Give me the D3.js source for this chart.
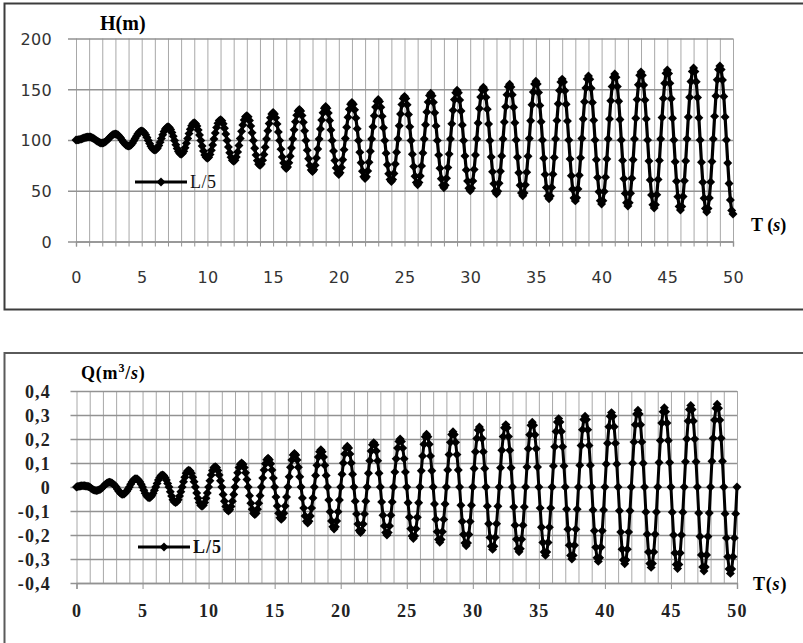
<!DOCTYPE html>
<html>
<head>
<meta charset="utf-8">
<script src="https://cdn.jsdelivr.net/npm/d3@7"></script>
<style>
body { margin: 0; background: #fff; }
</style>
</head>
<body>
<div id="chart"></div>
<script>
// sampling step of both series (s)
var tStep = 0.1;
var xTicks = [0, 5, 10, 15, 20, 25, 30, 35, 40, 45, 50];
var hTicks = [0, 50, 100, 150, 200];
var qTicks = [-0.4, -0.3, -0.2, -0.1, 0, 0.1, 0.2, 0.3, 0.4];
var seriesName = "L/5";

// H(m), one row per second
var headData = [
100, 100.1, 100.3, 100.6, 101.0, 101.5, 102.0, 102.4, 102.7, 102.9,
103, 102.9, 102.4, 101.8, 100.9, 100, 99.1, 98.2, 97.6, 97.1,
97, 97.2, 97.9, 98.9, 100.1, 101.5, 102.9, 104.1, 105.1, 105.8,
106, 105.7, 104.9, 103.5, 101.9, 100, 98.1, 96.5, 95.1, 94.3,
94, 94.4, 95.4, 97.1, 99.2, 101.5, 103.8, 105.9, 107.6, 108.6,
109, 108.5, 107.2, 105.1, 102.4, 99.5, 96.6, 93.9, 91.8, 90.5,
90, 90.6, 92.2, 94.7, 97.9, 101.5, 105.1, 108.3, 110.8, 112.4,
113, 112.3, 110.4, 107.4, 103.7, 99.5, 95.3, 91.6, 88.6, 86.7,
86, 86.8, 89.0, 92.4, 96.7, 101.5, 106.3, 110.6, 114.0, 116.2,
117, 116.1, 113.7, 109.8, 104.9, 99.5, 94.1, 89.2, 85.3, 82.9,
82, 82.9, 85.6, 89.8, 95.1, 101, 106.9, 112.2, 116.4, 119.1,
120, 119.0, 116.1, 111.6, 105.9, 99.5, 93.1, 87.5, 82.9, 80.0,
79, 80.1, 83.3, 88.3, 94.5, 101.5, 108.5, 114.7, 119.7, 122.9,
124, 122.8, 119.3, 113.9, 107.1, 99.5, 91.9, 85.1, 79.7, 76.2,
75, 76.3, 80.0, 85.7, 92.9, 101, 109.1, 116.3, 122.0, 125.7,
127, 125.7, 121.8, 115.7, 108.0, 99.5, 91.0, 83.3, 77.3, 73.4,
72, 73.4, 77.5, 84.0, 92.0, 101, 110.0, 118.1, 124.5, 128.6,
130, 128.5, 124.2, 117.4, 109.0, 99.5, 90.0, 81.6, 74.8, 70.5,
69, 70.6, 75.1, 82.2, 91.1, 101, 110.9, 119.8, 126.9, 131.4,
133, 131.4, 126.6, 119.2, 109.9, 99.5, 89.1, 79.8, 72.4, 67.6,
66, 67.7, 72.8, 80.6, 90.5, 101.5, 112.5, 122.4, 130.2, 135.3,
137, 135.2, 129.8, 121.6, 111.1, 99.5, 87.9, 77.5, 69.2, 63.8,
62, 63.9, 69.4, 78.1, 88.9, 101, 113.1, 123.9, 132.6, 138.1,
140, 138.0, 132.3, 123.3, 112.1, 99.5, 86.9, 75.7, 66.7, 61.0,
59, 61.1, 67.0, 76.3, 88.0, 101, 114.0, 125.7, 135.0, 140.9,
143, 140.9, 134.7, 125.1, 113.0, 99.5, 86.0, 73.9, 64.3, 58.1,
56, 58.2, 64.6, 74.5, 87.1, 101, 115.0, 127.5, 137.4, 143.8,
146, 143.7, 137.1, 126.8, 113.9, 99.5, 85.1, 72.2, 61.9, 55.3,
53, 55.4, 62.2, 72.8, 86.1, 101, 115.9, 129.2, 139.8, 146.6,
149, 146.6, 139.5, 128.6, 114.8, 99.5, 84.2, 70.4, 59.5, 52.4,
50, 52.5, 59.7, 71.0, 85.2, 101, 116.8, 131.0, 142.3, 149.5,
152, 149.4, 142.0, 130.4, 115.8, 99.5, 83.2, 68.6, 57.0, 49.6,
47, 49.6, 57.3, 69.2, 84.3, 101, 117.7, 132.8, 144.7, 152.4,
155, 152.3, 144.5, 132.3, 117.0, 100, 83.0, 67.7, 55.5, 47.7,
45, 47.8, 55.8, 68.3, 84.0, 101.5, 119.0, 134.7, 147.2, 155.2,
158, 155.2, 146.9, 134.1, 118.0, 100, 82.0, 65.9, 53.1, 44.8,
42, 44.9, 53.3, 66.3, 82.7, 101, 119.3, 135.7, 148.7, 157.1,
160, 157.1, 148.5, 135.3, 118.6, 100, 81.4, 64.7, 51.5, 42.9,
40, 43.0, 51.7, 65.3, 82.4, 101.5, 120.6, 137.7, 151.3, 160.0,
163, 159.9, 151.0, 137.0, 119.5, 100, 80.5, 63.0, 49.0, 40.1,
37, 40.1, 49.2, 63.4, 81.2, 101, 120.8, 138.6, 152.8, 161.9,
165, 161.8, 152.6, 138.2, 120.2, 100, 79.9, 61.8, 47.4, 38.2,
35, 38.2, 47.6, 62.2, 80.5, 101, 121.5, 139.8, 154.4, 163.8,
167, 163.7, 154.2, 139.4, 120.8, 100, 79.2, 60.6, 45.8, 36.3,
33, 36.3, 46.0, 61.0, 79.9, 101, 122.1, 141.0, 156.0, 165.7,
169, 165.6, 155.8, 140.6, 121.4, 100, 78.6, 59.4, 44.2, 34.4,
31, 34.4, 44.4, 59.8, 79.3, 101, 122.7, 142.2, 157.6, 167.6,
171, 167.5, 157.4, 141.8, 122.0, 100, 78.0, 58.3, 42.6, 32.5,
29, 32.5, 42.8, 58.7, 78.7, 101, 123.3, 143.3, 159.3, 169.5,
173, 169.4, 159.1, 142.9, 122.6, 100, 77.4, 57.1, 40.9, 30.6,
27
];

// Q(m3/s), one row per second
var flowData = [
0, .002, .003, .004, .005, .005, .005, .004, .003, .002,
0, -.005, -.009, -.012, -.014, -.015, -.014, -.012, -.009, -.005,
0, .006, .012, .016, .019, .02, .019, .016, .012, .006,
0, -.009, -.018, -.024, -.029, -.03, -.029, -.024, -.018, -.009,
0, .011, .021, .028, .033, .035, .033, .028, .021, .011,
0, -.014, -.026, -.036, -.043, -.045, -.043, -.036, -.026, -.014,
0, .015, .029, .040, .048, .05, .048, .040, .029, .015,
0, -.020, -.038, -.053, -.062, -.065, -.062, -.053, -.038, -.020,
0, .022, .041, .057, .067, .07, .067, .057, .041, .022,
0, -.025, -.047, -.065, -.076, -.08, -.076, -.065, -.047, -.025,
0, .026, .050, .069, .081, .085, .081, .069, .050, .026,
0, -.031, -.059, -.081, -.095, -.1, -.095, -.081, -.059, -.031,
0, .031, .059, .081, .095, .1, .095, .081, .059, .031,
0, -.036, -.068, -.093, -.109, -.115, -.109, -.093, -.068, -.036,
0, .037, .071, .097, .114, .12, .114, .097, .071, .037,
0, -.042, -.079, -.109, -.128, -.135, -.128, -.109, -.079, -.042,
0, .043, .082, .113, .133, .14, .133, .113, .082, .043,
0, -.046, -.088, -.121, -.143, -.15, -.143, -.121, -.088, -.046,
0, .048, .091, .125, .147, .155, .147, .125, .091, .048,
0, -.054, -.103, -.142, -.166, -.175, -.166, -.142, -.103, -.054,
0, .053, .1, .138, .162, .17, .162, .138, .1, .053,
0, -.059, -.112, -.154, -.181, -.19, -.181, -.154, -.112, -.059,
0, .057, .109, .15, .176, .185, .176, .15, .109, .057,
0, -.062, -.118, -.162, -.19, -.2, -.19, -.162, -.118, -.062,
0, .062, .118, .162, .19, .2, .19, .162, .118, .062,
0, -.066, -.126, -.174, -.204, -.215, -.204, -.174, -.126, -.066,
0, .068, .129, .178, .209, .22, .209, .178, .129, .068,
0, -.071, -.135, -.186, -.219, -.23, -.219, -.186, -.135, -.071,
0, .071, .135, .186, .219, .23, .219, .186, .135, .071,
0, -.076, -.144, -.198, -.233, -.245, -.233, -.198, -.144, -.076,
0, .077, .147, .202, .238, .25, .238, .202, .147, .077,
0, -.08, -.153, -.21, -.247, -.26, -.247, -.21, -.153, -.08,
0, .08, .153, .21, .247, .26, .247, .21, .153, .08,
0, -.083, -.159, -.218, -.257, -.27, -.257, -.218, -.159, -.083,
0, .083, .159, .218, .257, .27, .257, .218, .159, .083,
0, -.088, -.168, -.231, -.271, -.285, -.271, -.231, -.168, -.088,
0, .088, .168, .231, .271, .285, .271, .231, .168, .088,
0, -.093, -.176, -.243, -.285, -.3, -.285, -.243, -.176, -.093,
0, .091, .173, .239, .281, .295, .281, .239, .173, .091,
0, -.096, -.182, -.251, -.295, -.31, -.295, -.251, -.182, -.096,
0, .096, .182, .251, .295, .31, .295, .251, .182, .096,
0, -.099, -.188, -.259, -.304, -.32, -.304, -.259, -.188, -.099,
0, .099, .188, .259, .304, .32, .304, .259, .188, .099,
0, -.104, -.197, -.271, -.319, -.335, -.319, -.271, -.197, -.104,
0, .102, .194, .267, .314, .33, .314, .267, .194, .102,
0, -.105, -.2, -.275, -.323, -.34, -.323, -.275, -.2, -.105,
0, .105, .2, .275, .323, .34, .323, .275, .2, .105,
0, -.108, -.206, -.283, -.333, -.35, -.333, -.283, -.206, -.108,
0, .107, .203, .279, .328, .345, .328, .279, .203, .107,
0, -.111, -.212, -.291, -.342, -.36, -.342, -.291, -.212, -.111,
0
];

var W = 803, H = 643;
var svg = d3.select("#chart").append("svg").attr("width", W).attr("height", H);

// panel frames (they run off the right/bottom edge like the scan)
svg.append("rect").attr("x", 4.5).attr("y", 3.5).attr("width", 830).attr("height", 306)
    .attr("fill", "none").attr("stroke", "#3c3c3c").attr("stroke-width", 2);
svg.append("rect").attr("x", 4.5).attr("y", 353).attr("width", 830).attr("height", 320)
    .attr("fill", "none").attr("stroke", "#5a5a5a").attr("stroke-width", 2);

var diamond = d3.symbol().type(d3.symbolSquare).size(40);

function drawPanel(cfg) {
    var g = svg.append("g");
    var x = d3.scaleLinear().domain([0, 50]).range([cfg.left, cfg.right]);
    var y = d3.scaleLinear().domain(cfg.yDomain).range([cfg.bottom, cfg.top]);
    var plotH = cfg.bottom - cfg.top;

    // vertical grid, every second
    g.append("g").attr("transform", "translate(0," + cfg.bottom + ")")
        .call(d3.axisBottom(x).tickValues(d3.range(0, 51)).tickSize(-plotH).tickFormat(""))
        .call(function (s) { s.select(".domain").remove(); })
        .selectAll("line").attr("stroke", "#a8a8a8").attr("stroke-width", 1);

    // horizontal grid, sticking out a bit on the left like tick marks
    g.append("g").attr("transform", "translate(" + (cfg.left - cfg.yTickLen) + ",0)")
        .call(d3.axisLeft(y).tickValues(cfg.yTicks).tickSize(-(cfg.right - cfg.left + cfg.yTickLen)).tickFormat(""))
        .call(function (s) { s.select(".domain").remove(); })
        .selectAll("line").attr("stroke", "#929292").attr("stroke-width", cfg.hGridW);

    // x tick marks under the axis
    g.append("g").attr("transform", "translate(0," + cfg.bottom + ")")
        .call(d3.axisBottom(x).tickValues(cfg.xMarkTicks).tickSize(cfg.xMarkLen).tickFormat(""))
        .call(function (s) { s.select(".domain").attr("stroke", "#929292").attr("stroke-width", cfg.hGridW); })
        .selectAll("line").attr("stroke", "#929292");

    // x labels
    var xl = g.append("g").attr("transform", "translate(0," + cfg.xLabelY + ")")
        .call(d3.axisBottom(x).tickValues(xTicks).tickSize(0));
    xl.select(".domain").remove();
    xl.selectAll("text").attr("y", 0).attr("dy", null)
        .attr("font-family", cfg.font).attr("font-size", cfg.fontSize)
        .attr("font-weight", cfg.fontWeight).attr("fill", cfg.textColor)
        .attr("letter-spacing", cfg.spacing);

    // y labels
    var yl = g.append("g").attr("transform", "translate(" + cfg.yLabelX + ",0)")
        .call(d3.axisLeft(y).tickValues(cfg.yTicks).tickSize(0).tickPadding(0).tickFormat(cfg.yFormat));
    yl.select(".domain").remove();
    yl.selectAll("text").attr("dy", "0.36em")
        .attr("font-family", cfg.font).attr("font-size", cfg.fontSize)
        .attr("font-weight", cfg.fontWeight).attr("fill", cfg.textColor)
        .attr("letter-spacing", cfg.spacing);

    // series
    var line = d3.line()
        .x(function (d, i) { return x(i * tStep); })
        .y(function (d) { return y(d); });
    g.append("path").datum(cfg.data).attr("d", line)
        .attr("fill", "none").attr("stroke", "#000").attr("stroke-width", cfg.lineW)
        .attr("stroke-linejoin", "round");
    g.append("g").selectAll("path").data(cfg.data).enter().append("path")
        .attr("d", diamond)
        .attr("transform", function (d, i) { return "translate(" + x(i * tStep) + "," + y(d) + ") rotate(45)"; })
        .attr("fill", "#000");

    // legend
    var lg = g.append("g").attr("transform", "translate(" + cfg.legend[0] + "," + cfg.legend[1] + ")");
    lg.append("line").attr("x1", 0).attr("x2", 52).attr("y1", 0).attr("y2", 0)
        .attr("stroke", "#000").attr("stroke-width", 2.8);
    lg.append("path").attr("d", diamond).attr("transform", "translate(26,0) rotate(45)").attr("fill", "#000");
    lg.append("text").attr("x", 55).attr("y", 6).text(seriesName)
        .attr("font-family", "Liberation Serif").attr("font-size", 18)
        .attr("font-weight", cfg.legendWeight).attr("fill", "#111")
        .attr("letter-spacing", cfg.legendWeight === "bold" ? 1 : 0.5);

    return g;
}

var panelH = drawPanel({
    data: headData, left: 76, right: 733, top: 38.5, bottom: 241.5,
    yDomain: [0, 200], yTicks: hTicks, yTickLen: 8, hGridW: 1.4,
    xMarkTicks: d3.range(0, 51), xMarkLen: 5,
    xLabelY: 283, yLabelX: 52,
    yFormat: function (d) { return d; },
    font: "DejaVu Sans", fontSize: 16, fontWeight: "normal", textColor: "#333", spacing: 0.3,
    lineW: 3.2, legend: [135, 182], legendWeight: "normal"
});
panelH.append("text").attr("x", 100).attr("y", 30).text("H(m)")
    .attr("font-family", "Liberation Serif").attr("font-size", 20).attr("font-weight", "bold");
var tt = panelH.append("text").attr("x", 751).attr("y", 231)
    .attr("font-family", "Liberation Serif").attr("font-size", 18).attr("font-weight", "bold");
tt.append("tspan").text("T (");
tt.append("tspan").attr("font-style", "italic").text("s");
tt.append("tspan").text(")");

var panelQ = drawPanel({
    data: flowData, left: 76.5, right: 737, top: 391, bottom: 583,
    yDomain: [-0.4, 0.4], yTicks: qTicks, yTickLen: 6, hGridW: 1.4,
    xMarkTicks: xTicks, xMarkLen: 6,
    xLabelY: 617, yLabelX: 51,
    yFormat: function (d) { return d === 0 ? "0" : d.toFixed(1).replace(".", ","); },
    font: "Liberation Serif", fontSize: 18, fontWeight: "bold", textColor: "#222", spacing: 1.2,
    lineW: 3, legend: [138, 547], legendWeight: "bold"
});
var qt = panelQ.append("text").attr("x", 81).attr("y", 379)
    .attr("font-family", "Liberation Serif").attr("font-size", 18).attr("font-weight", "bold")
    .attr("letter-spacing", 0.8);
qt.append("tspan").text("Q(m");
qt.append("tspan").attr("font-size", 12).attr("dy", -7).text("3");
qt.append("tspan").attr("dy", 7).text("/");
qt.append("tspan").attr("font-style", "italic").text("s");
qt.append("tspan").text(")");
var bt = panelQ.append("text").attr("x", 753).attr("y", 590)
    .attr("font-family", "Liberation Serif").attr("font-size", 18).attr("font-weight", "bold")
    .attr("letter-spacing", 0.8);
bt.append("tspan").text("T(");
bt.append("tspan").attr("font-style", "italic").text("s");
bt.append("tspan").text(")");
</script>
</body>
</html>
